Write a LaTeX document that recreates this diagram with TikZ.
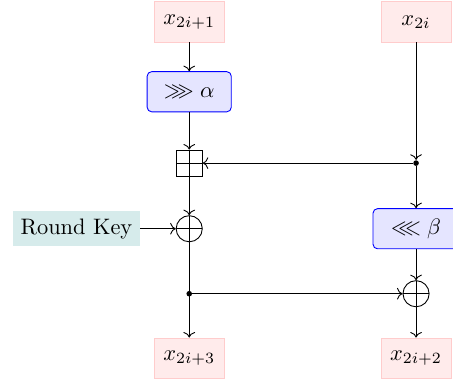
\documentclass[tikz,border=0pt]{standalone}
\usepackage{amsmath, amssymb}
\usepackage{xcolor}
\usepackage{tikz}
\usetikzlibrary{arrows.meta, positioning}

\begin{document}
\begin{tikzpicture}[
    var/.style={rectangle, draw=red!20, fill=red!8, minimum width=1.1cm, minimum height=0.63cm},
    rot/.style={rectangle, draw=blue, fill=blue!10, rounded corners=2pt, minimum width=1.32cm, minimum height=0.63cm},
    keybox/.style={rectangle, fill=teal!16},
    addop/.style={rectangle, draw, minimum size=0.41cm, inner sep=0pt,
        path picture={\draw (path picture bounding box.north) -- (path picture bounding box.south)
            (path picture bounding box.west) -- (path picture bounding box.east);}},
    xorop/.style={circle, draw, minimum size=0.41cm, inner sep=0pt,
        path picture={\draw (path picture bounding box.north) -- (path picture bounding box.south)
            (path picture bounding box.west) -- (path picture bounding box.east);}},
    junction/.style={circle, fill, inner sep=0pt, minimum size=2.5pt}
]
    \useasboundingbox (0,0) rectangle (7.11,-6.01);

    % Inputs
    \node[var] (x1) at (2.97,-0.345) {$x_{2i+1}$};
    \node[var] (x0) at (6.53,-0.345) {$x_{2i}$};

    % Operations
    \node[rot] (rotA) at (2.97,-1.44) {$\ggg \alpha$};
    \node[addop] (add) at (2.97,-2.56) {};
    \node[junction] (dotR) at (6.53,-2.56) {};
    \node[keybox] (key) at (1.2,-3.59) {Round Key};
    \node[xorop] (xorA) at (2.97,-3.59) {};
    \node[rot, minimum width=1.35cm] (rotB) at (6.53,-3.59) {$\lll \beta$};
    \node[junction] (dotL) at (2.97,-4.61) {};
    \node[xorop] (xorB) at (6.53,-4.61) {};

    % Outputs
    \node[var] (y1) at (2.97,-5.62) {$x_{2i+3}$};
    \node[var] (y0) at (6.53,-5.62) {$x_{2i+2}$};

    % Draw connections
    \draw[->] (x1) -- (rotA);
    \draw[->] (rotA) -- (add);
    \draw[->] (add) -- (xorA);
    \draw[->] (key) -- (xorA);
    \draw[->] (xorA) -- (y1);

    \draw[->] (x0) -- (dotR);
    \draw[->] (dotR) -- (add);
    \draw[->] (dotR) -- (rotB);
    \draw[->] (rotB) -- (xorB);
    \draw[->] (dotL) -- (xorB);
    \draw[->] (xorB) -- (y0);
\end{tikzpicture}
\end{document}
